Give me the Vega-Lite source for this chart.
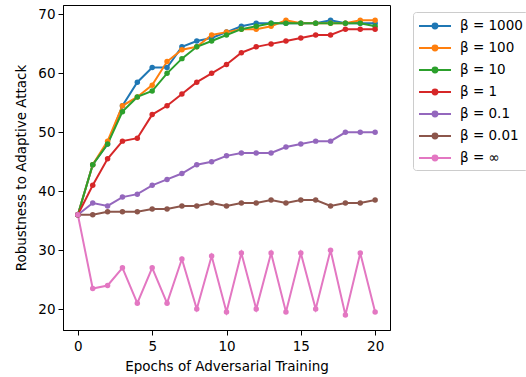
{
  "$schema": "https://vega.github.io/schema/vega-lite/v6.json",
  "autosize": {"type": "none"},
  "padding": {"left": 63, "top": 5, "right": 136, "bottom": 47},
  "width": 327,
  "height": 325,
  "background": "white",
  "data": {
    "values": [
      {"epoch": 0, "b1000": 36, "b100": 36, "b10": 36, "b1": 36, "b01": 36, "b001": 36, "binf": 36},
      {"epoch": 1, "b1000": 44.5, "b100": 44.5, "b10": 44.5, "b1": 41, "b01": 38, "b001": 36, "binf": 23.5},
      {"epoch": 2, "b1000": 48, "b100": 48.5, "b10": 48, "b1": 45.5, "b01": 37.5, "b001": 36.5, "binf": 24},
      {"epoch": 3, "b1000": 54.5, "b100": 54.5, "b10": 53.5, "b1": 48.5, "b01": 39, "b001": 36.5, "binf": 27},
      {"epoch": 4, "b1000": 58.5, "b100": 56, "b10": 56, "b1": 49, "b01": 39.5, "b001": 36.5, "binf": 21},
      {"epoch": 5, "b1000": 61, "b100": 58, "b10": 57, "b1": 53, "b01": 41, "b001": 37, "binf": 27},
      {"epoch": 6, "b1000": 61, "b100": 62, "b10": 60, "b1": 54.5, "b01": 42, "b001": 37, "binf": 21},
      {"epoch": 7, "b1000": 64.5, "b100": 64, "b10": 62.5, "b1": 56.5, "b01": 43, "b001": 37.5, "binf": 28.5},
      {"epoch": 8, "b1000": 65.5, "b100": 64.5, "b10": 64.5, "b1": 58.5, "b01": 44.5, "b001": 37.5, "binf": 20},
      {"epoch": 9, "b1000": 66, "b100": 66.5, "b10": 65.5, "b1": 60, "b01": 45, "b001": 38, "binf": 29},
      {"epoch": 10, "b1000": 67, "b100": 67, "b10": 66.5, "b1": 61.5, "b01": 46, "b001": 37.5, "binf": 19.5},
      {"epoch": 11, "b1000": 68, "b100": 67.5, "b10": 67.5, "b1": 63.5, "b01": 46.5, "b001": 38, "binf": 29.5},
      {"epoch": 12, "b1000": 68.5, "b100": 67.5, "b10": 68, "b1": 64.5, "b01": 46.5, "b001": 38, "binf": 20},
      {"epoch": 13, "b1000": 68.5, "b100": 68, "b10": 68.5, "b1": 65, "b01": 46.5, "b001": 38.5, "binf": 29.5},
      {"epoch": 14, "b1000": 68.5, "b100": 69, "b10": 68.5, "b1": 65.5, "b01": 47.5, "b001": 38, "binf": 19.5},
      {"epoch": 15, "b1000": 68.5, "b100": 68.5, "b10": 68.5, "b1": 66, "b01": 48, "b001": 38.5, "binf": 29.5},
      {"epoch": 16, "b1000": 68.5, "b100": 68.5, "b10": 68.5, "b1": 66.5, "b01": 48.5, "b001": 38.5, "binf": 20},
      {"epoch": 17, "b1000": 69, "b100": 68.5, "b10": 68.5, "b1": 66.5, "b01": 48.5, "b001": 37.5, "binf": 30},
      {"epoch": 18, "b1000": 68.5, "b100": 68.5, "b10": 68.5, "b1": 67.5, "b01": 50, "b001": 38, "binf": 19},
      {"epoch": 19, "b1000": 68.5, "b100": 69, "b10": 68.5, "b1": 67.5, "b01": 50, "b001": 38, "binf": 29.5},
      {"epoch": 20, "b1000": 68.5, "b100": 69, "b10": 68, "b1": 67.5, "b01": 50, "b001": 38.5, "binf": 19.5}
    ]
  },
  "transform": [
    {"fold": ["b1000", "b100", "b10", "b1", "b01", "b001", "binf"], "as": ["beta", "value"]}
  ],
  "encoding": {
    "x": {
      "field": "epoch", "type": "quantitative",
      "scale": {"domain": [-1, 21], "nice": false, "zero": false},
      "axis": {"values": [0, 5, 10, 15, 20], "title": "Epochs of Adversarial Training", "titlePadding": 7, "labelPadding": 4}
    },
    "y": {
      "field": "value", "type": "quantitative",
      "scale": {"domain": [16.45, 71.6], "nice": false, "zero": false},
      "axis": {"values": [20, 30, 40, 50, 60, 70], "title": "Robustness to Adaptive Attack", "titlePadding": 9, "labelPadding": 3}
    },
    "color": {
      "field": "beta", "type": "nominal",
      "sort": ["b1000", "b100", "b10", "b1", "b01", "b001", "binf"],
      "scale": {
        "domain": ["b1000", "b100", "b10", "b1", "b01", "b001", "binf"],
        "range": ["#1f77b4", "#ff7f0e", "#2ca02c", "#d62728", "#9467bd", "#8c564b", "#e377c2"]
      },
      "legend": {
        "title": null,
        "orient": "none",
        "legendX": 350,
        "legendY": 7,
        "labelExpr": "{'b1000': 'β = 1000', 'b100': 'β = 100', 'b10': 'β = 10', 'b1': 'β = 1', 'b01': 'β = 0.1', 'b001': 'β = 0.01', 'binf': 'β = ∞'}[datum.value]",
        "symbolType": "M-2,0L2,0M-0.3,0A0.3,0.3,0,1,0,0.3,0A0.3,0.3,0,1,0,-0.3,0Z",
        "symbolSize": 256,
        "symbolStrokeWidth": 2,
        "symbolOffset": 8,
        "labelOffset": 16,
        "rowPadding": 6,
        "padding": 5,
        "strokeColor": "#cccccc",
        "fillColor": "white",
        "cornerRadius": 3,
        "labelFontSize": 13.5,
        "labelFont": "DejaVu Sans",
        "labelColor": "black",
        "encode": {
          "symbols": {
            "update": {
              "fill": {"scale": "color", "field": "value"},
              "stroke": {"scale": "color", "field": "value"},
              "opacity": {"value": 1}
            }
          }
        }
      }
    }
  },
  "layer": [
    {"mark": {"type": "line", "strokeWidth": 2}},
    {"mark": {"type": "circle", "size": 30, "opacity": 1}}
  ],
  "config": {
    "view": {"stroke": "black", "strokeWidth": 1},
    "axis": {
      "grid": false,
      "domainColor": "black",
      "tickColor": "black",
      "tickSize": 5,
      "labelColor": "black",
      "titleColor": "black",
      "labelFont": "DejaVu Sans",
      "titleFont": "DejaVu Sans",
      "labelFontSize": 13.5,
      "titleFontSize": 13.5,
      "titleFontWeight": "normal"
    }
  }
}
